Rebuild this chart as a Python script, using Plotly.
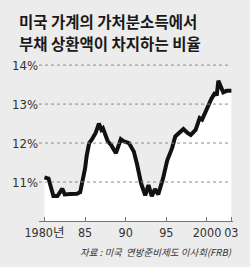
import plotly.graph_objects as go

# ---- data ----
years = [1980.0, 1980.5, 1981.1, 1981.6, 1982.2, 1982.5, 1983.2, 1984.0, 1984.4, 1984.7,
         1985.0, 1985.2, 1985.5, 1985.8, 1986.3, 1986.7, 1987.0, 1987.2, 1987.8, 1988.2,
         1988.8, 1989.4, 1989.8, 1990.4, 1991.0, 1991.4, 1991.9, 1992.4, 1992.8, 1993.2,
         1993.6, 1994.0, 1994.6, 1995.1, 1995.7, 1996.1, 1996.7, 1997.1, 1997.6, 1998.0,
         1998.6, 1999.1, 1999.4, 1999.9, 2000.5, 2001.0, 2001.2, 2001.4, 2001.7, 2002.0,
         2002.4, 2003.0]
ratio = [11.12, 11.09, 10.64, 10.64, 10.83, 10.68, 10.69, 10.70, 10.74, 11.00,
         11.35, 11.68, 12.00, 12.08, 12.26, 12.50, 12.34, 12.38, 12.04, 11.95,
         11.74, 12.10, 12.04, 12.00, 11.78, 11.45, 10.96, 10.66, 10.92, 10.64,
         10.82, 10.68, 11.10, 11.55, 11.87, 12.17, 12.30, 12.36, 12.26, 12.21,
         12.34, 12.64, 12.60, 12.86, 13.12, 13.30, 13.22, 13.60, 13.42, 13.30,
         13.34, 13.34]

x_tick_vals = [1980, 1985, 1990, 1995, 2000, 2003]
x_tick_text = ["1980년", "85", "90", "95", "2000", "03"]
y_tick_vals = [11, 12, 13, 14]
y_tick_text = ["11%", "12%", "13%", "14%"]

title_lines = ["미국 가계의 가처분소득에서", "부채 상환액이 차지하는 비율"]
source_text = "자료 : 미국  연방준비제도 이사회(FRB)"

# ---- layout constants ----
W, H = 250, 267
ML, MR, MT, MB = 36, 12, 62, 46
BG = "#ececec"
NUM_FONT = "Liberation Sans Narrow, DejaVu Sans Condensed, Noto Sans CJK KR, sans-serif"
KR_FONT = "Noto Sans CJK KR, sans-serif"

plot_w = W - ML - MR
plot_h = H - MT - MB


def px_x(px):
    return (px - ML) / plot_w


def px_y(py):
    return (H - MB - py) / plot_h


fig = go.Figure()
fig.add_trace(go.Scatter(x=years, y=ratio, mode="lines", fill="tozeroy",
                         fillcolor="white", line=dict(color="rgba(0,0,0,0)", width=0),
                         hoverinfo="skip", showlegend=False))
fig.add_trace(go.Scatter(x=years, y=ratio, mode="lines",
                         line=dict(color="#111111", width=4, shape="linear"),
                         showlegend=False))

shapes = []
for v in y_tick_vals:
    shapes.append(dict(type="line", xref="paper", yref="y", x0=0, x1=0.99, y0=v, y1=v,
                       line=dict(color="#8a8a8a", width=1, dash="dot"), layer="above"))

annotations = []
for i, t in enumerate(title_lines):
    annotations.append(dict(text="<b>" + t + "</b>", xref="paper", yref="paper",
                            x=px_x(13), y=px_y(21.5 + i * 21.8), xanchor="left", yanchor="middle",
                            showarrow=False, font=dict(family=KR_FONT, size=15.5, color="#1a1a1a")))
annotations.append(dict(text="<i>" + source_text + "</i>", xref="paper", yref="paper",
                        x=px_x(239), y=px_y(252), xanchor="right", yanchor="middle",
                        showarrow=False, font=dict(family=KR_FONT, size=9.5, color="#333333")))

fig.update_layout(
    width=W, height=H,
    margin=dict(l=ML, r=MR, t=MT, b=MB, pad=0),
    paper_bgcolor=BG, plot_bgcolor=BG,
    xaxis=dict(range=[1979.33, 2003.2], tickvals=x_tick_vals, ticktext=x_tick_text,
               tickangle=0,
               showgrid=False, zeroline=False, showline=True, linecolor="#777777", linewidth=1,
               ticks="inside", ticklen=4, tickcolor="#777777",
               tickfont=dict(family=NUM_FONT, size=12.5, color="#333333")),
    yaxis=dict(range=[10, 14.08], tickvals=y_tick_vals, ticktext=y_tick_text,
               showgrid=False, zeroline=False, showline=False, ticks="",
               tickfont=dict(family=NUM_FONT, size=13, color="#333333")),
    shapes=shapes, annotations=annotations,
)

fig.write_html("out.html")
